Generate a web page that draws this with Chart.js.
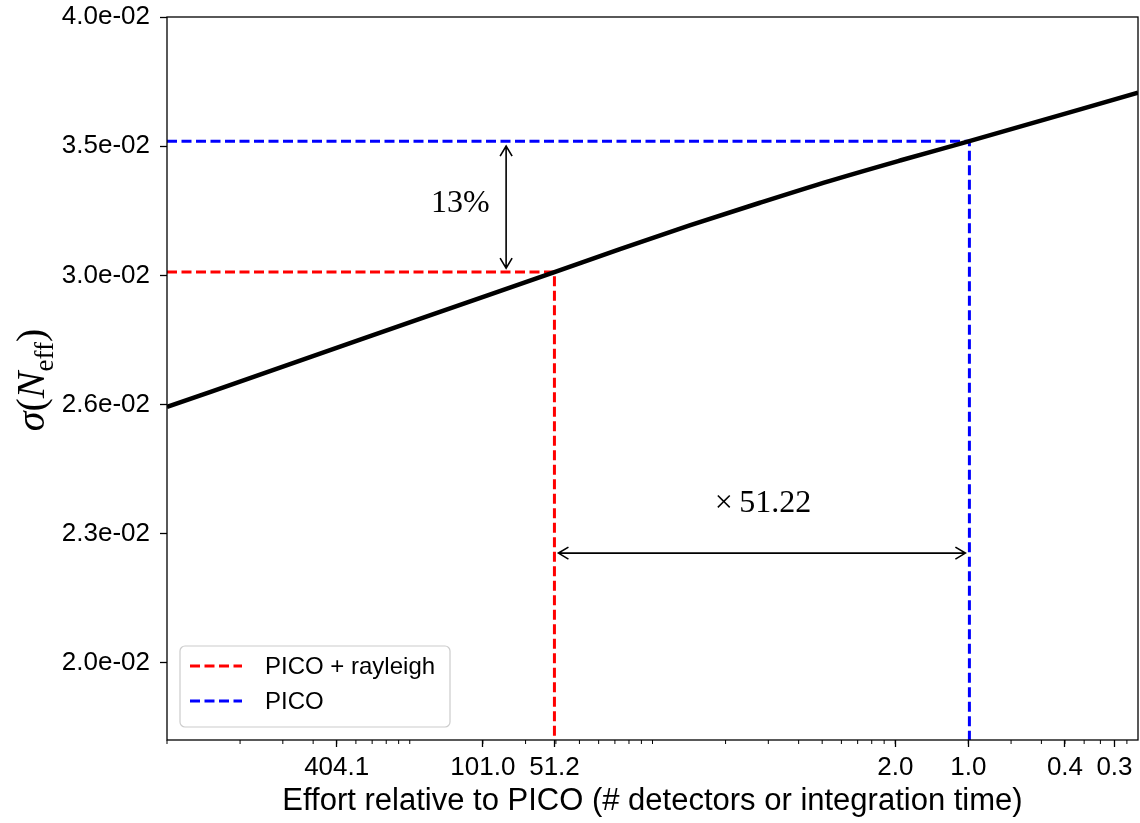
<!DOCTYPE html>
<html>
<head>
<meta charset="utf-8">
<script src="https://cdn.jsdelivr.net/npm/chart.js@4.4.0/dist/chart.umd.min.js"></script>
<style>
  html, body { margin: 0; padding: 0; background: #fff; }
</style>
</head>
<body>
<canvas id="chart" width="1140" height="823"></canvas>
<script>
// sigma(N_eff) against effort relative to PICO
const effort = [2020, 572, 167, 51.2, 27.5, 14.2, 7.29, 3.75, 1.93, 1.0, 0.202];
const sigmaNeff = [0.02632, 0.02766, 0.02904, 0.03042, 0.03118, 0.03198, 0.03277, 0.03355, 0.03429, 0.03501, 0.03688];

// the two experiment configurations
const picoEffort = 1.0;
const picoSigma = 0.03501;
const rayleighEffort = 51.22;
const rayleighSigma = 0.03042;

// axis ranges and ticks
const xMin = 0.20205, xMax = 2020.5;
const yMin = 0.01841, yMax = 0.04;
const xTickValues = [404.1, 101.0, 51.2, 2.02, 1.01, 0.404, 0.2526];
const xTickLabels = ["404.1", "101.0", "51.2", "2.0", "1.0", "0.4", "0.3"];
const yTickValues = [0.04, 0.03482, 0.03031, 0.02639, 0.02297, 0.02];
const yTickLabels = ["4.0e-02", "3.5e-02", "3.0e-02", "2.6e-02", "2.3e-02", "2.0e-02"];
const minorTickUnit = 2.0205; // minor ticks sit at unit / (k * 10^m)

const legendLabels = ["PICO + rayleigh", "PICO"];

const SANS = '"Liberation Sans", Arial, sans-serif';
const SERIF = '"Liberation Serif", "Times New Roman", serif';

// percent gain and effort factor, shown on the arrows
const gainText = Math.round((picoSigma - rayleighSigma) / picoSigma * 100) + "%";
const factorText = "\u00d7\u2009" + (rayleighEffort / picoEffort).toFixed(2);

function drawArrow(ctx, x1, y1, x2, y2) {
    const ang = Math.atan2(y2 - y1, x2 - x1);
    const hl = 10, hw = 6;
    ctx.beginPath();
    ctx.moveTo(x1, y1);
    ctx.lineTo(x2, y2);
    [[x1, y1, ang + Math.PI], [x2, y2, ang]].forEach(([x, y, a]) => {
        const bx = x - hl * Math.cos(a), by = y - hl * Math.sin(a);
        ctx.moveTo(bx + hw * Math.sin(a), by - hw * Math.cos(a));
        ctx.lineTo(x, y);
        ctx.lineTo(bx - hw * Math.sin(a), by + hw * Math.cos(a));
    });
    ctx.stroke();
}

function drawYTitle(ctx) {
    const parts = [
        { t: "\u03c3", f: "italic 40px " + SERIF, dy: 0 },
        { t: "(", f: "40px " + SERIF, dy: 0 },
        { t: "N", f: "italic 40px " + SERIF, dy: 0 },
        { t: "eff", f: "27px " + SERIF, dy: 9 },
        { t: ")", f: "40px " + SERIF, dy: 0 }
    ];
    ctx.save();
    ctx.translate(44, 380);
    ctx.rotate(-Math.PI / 2);
    ctx.fillStyle = "#000";
    ctx.textBaseline = "alphabetic";
    let total = 0;
    parts.forEach(p => { ctx.font = p.f; p.w = ctx.measureText(p.t).width; total += p.w; });
    let x = -total / 2;
    parts.forEach(p => {
        ctx.font = p.f;
        ctx.fillText(p.t, x, p.dy);
        x += p.w;
    });
    ctx.restore();
}

const decorPlugin = {
    id: "decor",
    afterDraw(chart) {
        const ctx = chart.ctx;
        const ca = chart.chartArea;
        const xs = chart.scales.x, ys = chart.scales.y;

        // minor ticks on the x axis
        ctx.save();
        ctx.strokeStyle = "#000";
        ctx.lineWidth = 1;
        for (let m = -3; m <= 0; m++) {
            for (let k = 1; k <= 9; k++) {
                const v = minorTickUnit / (k * Math.pow(10, m));
                const px = xs.getPixelForValue(v);
                if (px < ca.left - 0.5 || px > ca.right + 0.5) continue;
                ctx.beginPath();
                ctx.moveTo(px, ca.bottom);
                ctx.lineTo(px, ca.bottom + 4);
                ctx.stroke();
            }
        }
        ctx.restore();

        // frame
        ctx.save();
        ctx.strokeStyle = "#000";
        ctx.lineWidth = 1.3;
        ctx.strokeRect(ca.left, ca.top, ca.right - ca.left, ca.bottom - ca.top);
        ctx.restore();

        // arrows and their labels
        ctx.save();
        ctx.strokeStyle = "#000";
        ctx.lineWidth = 1.6;
        const ax = xs.getPixelForValue(81);
        drawArrow(ctx, ax, ys.getPixelForValue(picoSigma) + 5, ax, ys.getPixelForValue(rayleighSigma) - 4);
        const ay = ys.getPixelForValue(0.0225);
        drawArrow(ctx, xs.getPixelForValue(rayleighEffort) + 4, ay, xs.getPixelForValue(picoEffort) - 4, ay);
        ctx.fillStyle = "#000";
        ctx.font = "32px " + SERIF;
        ctx.textAlign = "center";
        ctx.textBaseline = "middle";
        ctx.fillText(gainText, xs.getPixelForValue(125), ys.getPixelForValue(0.03275));
        ctx.fillText(factorText, xs.getPixelForValue(7.08), ys.getPixelForValue(0.02374));
        ctx.restore();

        // legend box
        ctx.save();
        const lx = ca.left + 13, ly = ca.bottom - 94, lw = 270, lh = 81;
        ctx.fillStyle = "rgba(255,255,255,0.8)";
        ctx.strokeStyle = "#cccccc";
        ctx.lineWidth = 1.2;
        ctx.beginPath();
        ctx.roundRect(lx, ly, lw, lh, 5);
        ctx.fill();
        ctx.stroke();
        const colors = ["#ff0000", "#0000ff"];
        ctx.lineWidth = 3;
        ctx.setLineDash([10, 4.5]);
        ctx.font = "24px " + SANS;
        ctx.textBaseline = "middle";
        legendLabels.forEach((lab, i) => {
            const yy = ly + 20 + i * 35;
            ctx.strokeStyle = colors[i];
            ctx.beginPath();
            ctx.moveTo(lx + 10, yy);
            ctx.lineTo(lx + 62, yy);
            ctx.stroke();
            ctx.fillStyle = "#000";
            ctx.fillText(lab, lx + 85, yy + 1);
        });
        ctx.restore();

        drawYTitle(ctx);
    }
};

const ctx = document.getElementById("chart").getContext("2d");
new Chart(ctx, {
    type: "line",
    data: {
        datasets: [
            {
                data: effort.map((e, i) => ({ x: e, y: sigmaNeff[i] })),
                borderColor: "#000",
                borderWidth: 4.5,
                pointRadius: 0,
                cubicInterpolationMode: "monotone"
            },
            {
                data: [{ x: xMax, y: rayleighSigma }, { x: rayleighEffort, y: rayleighSigma }, { x: rayleighEffort, y: yMin }],
                borderColor: "#ff0000",
                borderWidth: 3,
                borderDash: [10, 4.5],
                pointRadius: 0,
                tension: 0
            },
            {
                data: [{ x: xMax, y: picoSigma }, { x: picoEffort, y: picoSigma }, { x: picoEffort, y: yMin }],
                borderColor: "#0000ff",
                borderWidth: 3,
                borderDash: [10, 4.5],
                pointRadius: 0,
                tension: 0
            }
        ]
    },
    options: {
        responsive: false,
        animation: false,
        layout: { padding: { top: 17, right: 2, left: 0, bottom: 0 } },
        plugins: {
            legend: { display: false },
            tooltip: { enabled: false }
        },
        scales: {
            x: {
                type: "logarithmic",
                reverse: true,
                min: xMin,
                max: xMax,
                afterBuildTicks: (scale) => { scale.ticks = xTickValues.map(v => ({ value: v })); },
                afterFit: (scale) => { scale.height = 83; scale.paddingLeft = 0; scale.paddingRight = 0; },
                border: { display: false },
                grid: { drawOnChartArea: false, drawTicks: true, tickLength: 7, tickColor: "#000", tickWidth: 1.3 },
                ticks: {
                    autoSkip: false, maxRotation: 0, minRotation: 0, padding: 5,
                    color: "#000", font: { family: SANS, size: 26 },
                    callback: (v, i) => xTickLabels[i]
                },
                title: {
                    display: true,
                    text: "Effort relative to PICO (# detectors or integration time)",
                    color: "#000",
                    font: { family: SANS, size: 31 },
                    padding: { top: 0, bottom: 3 }
                }
            },
            y: {
                type: "logarithmic",
                min: yMin,
                max: yMax,
                afterBuildTicks: (scale) => { scale.ticks = yTickValues.map(v => ({ value: v })); },
                afterFit: (scale) => { scale.width = 167; scale.paddingTop = 0; scale.paddingBottom = 0; },
                border: { display: false },
                grid: { drawOnChartArea: false, drawTicks: true, tickLength: 7, tickColor: "#000", tickWidth: 1.3 },
                ticks: {
                    autoSkip: false, padding: 10,
                    color: "#000", font: { family: SANS, size: 26 },
                    callback: (v, i) => yTickLabels[i]
                }
            }
        }
    },
    plugins: [decorPlugin]
});
</script>
</body>
</html>
